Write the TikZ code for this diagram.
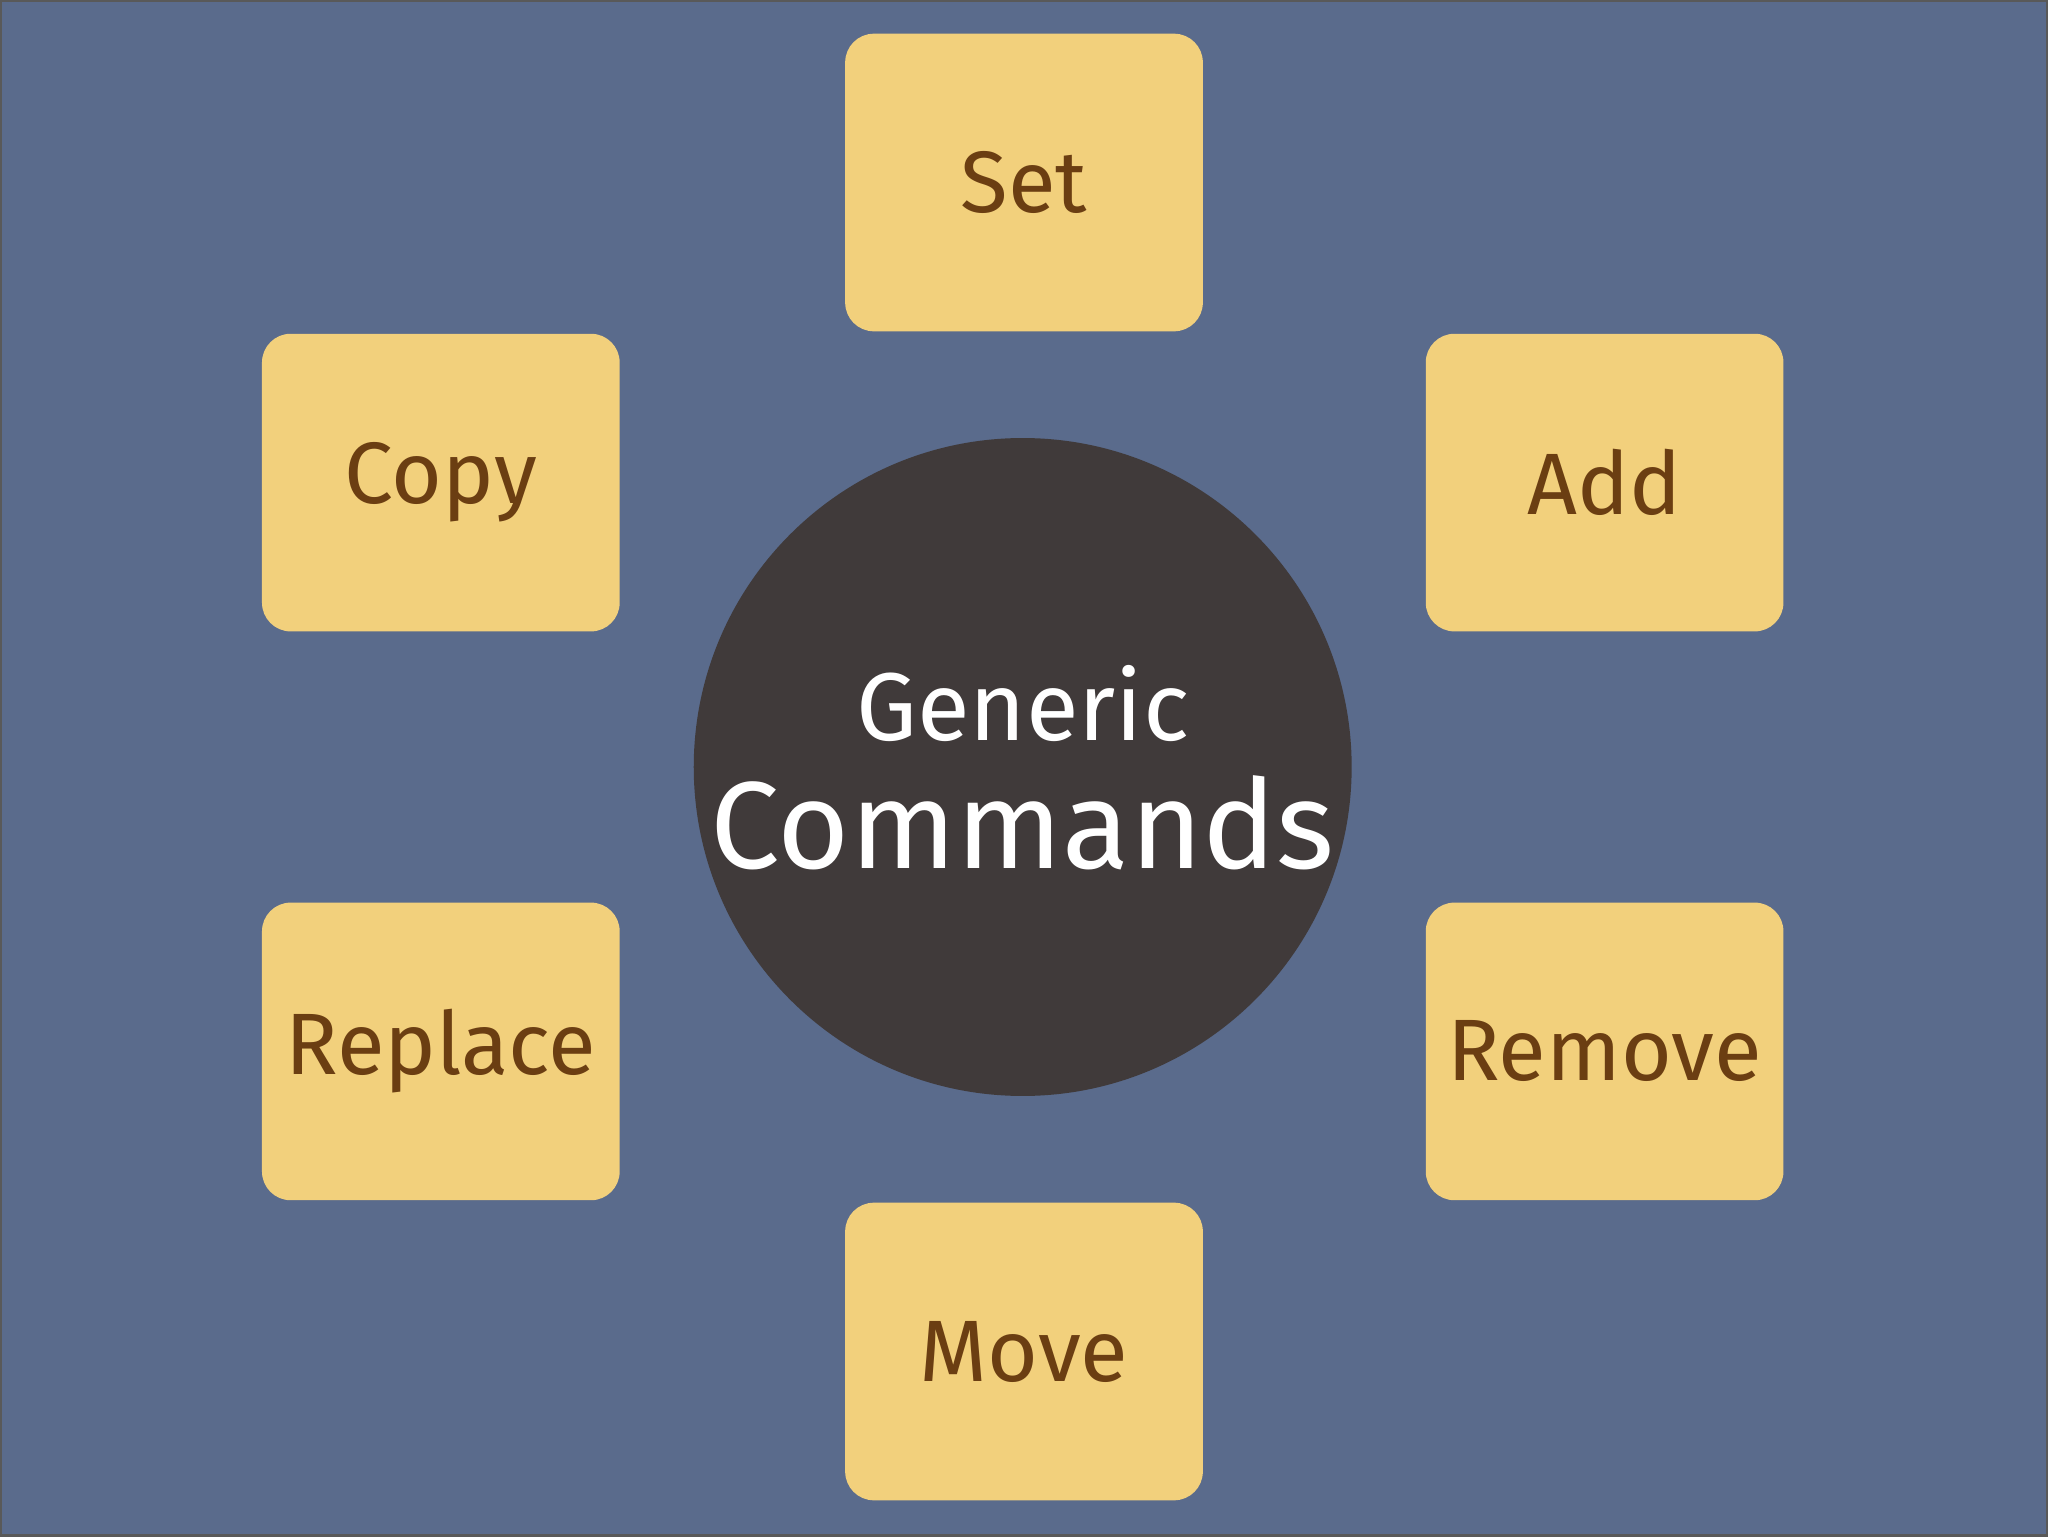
\documentclass[tikz,border=0pt]{standalone}
\usepackage{fontspec}
\setmainfont{Fira Sans}
\definecolor{bg}{HTML}{5A6B8C}
\definecolor{boxc}{HTML}{F2D07C}
\definecolor{txt}{HTML}{6B3E12}
\definecolor{circ}{HTML}{403A3A}
\begin{document}
\begin{tikzpicture}[x=0.01cm,y=-0.01cm,
  cmd/.style={fill=boxc,rounded corners=0.22cm,minimum width=2.74cm,minimum height=2.28cm,text=txt,font=\fontsize{19}{22}\selectfont,inner sep=0pt}]
\fill[bg,draw=gray!70!black,line width=0.5pt] (0,0) rectangle (1568,1176);
\node[circle,fill=circ,minimum size=5.04cm,inner sep=0pt] (c) at (783,587) {};
\node[text=white,font=\fontsize{21}{24}\selectfont] (g) at (783,538) {Generic};
\node[text=white,font=\fontsize{27}{30}\selectfont] (cm) at (783,630) {Commands};
\node[cmd] (set) at (784,139) {Set};
\node[cmd] (copy) at (337,369) {Copy};
\node[cmd] (add) at (1229,369) {Add};
\node[cmd] (rep) at (337,805) {Replace};
\node[cmd] (rem) at (1229,805) {Remove};
\node[cmd] (mov) at (784,1035) {Move};
\end{tikzpicture}
\end{document}
